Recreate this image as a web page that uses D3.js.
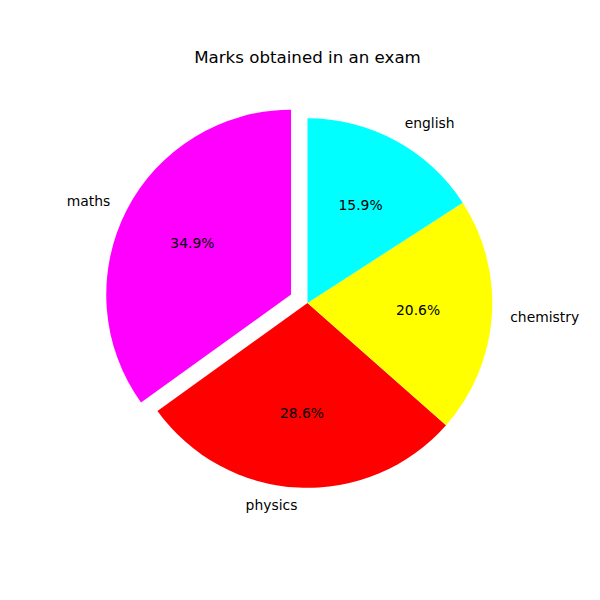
<!DOCTYPE html>
<html><head><meta charset="utf-8">
<script src="https://cdn.jsdelivr.net/npm/d3@7"></script>
<style>body{margin:0;background:#fff}</style>
</head><body>
<svg id="c" width="600" height="600"></svg>
<script>
const subjects = ["maths", "physics", "chemistry", "english"];
const marks = [22, 18, 13, 10];
const colors = ["magenta", "red", "yellow", "cyan"];
const explode = [0.1, 0, 0, 0];
const title = "Marks obtained in an exam";

const svg = d3.select("#c");
const cx = 307.5, cy = 303;
const r = d3.scaleLinear().domain([0, 1]).range([0, 184.8]);
const font = "DejaVu Sans, sans-serif";

svg.append("text").attr("x", cx).attr("y", 63.2).attr("text-anchor", "middle")
  .style("font-family", font).style("font-size", "16.67px").text(title);

const data = subjects.map((s, i) => ({s, v: marks[i], c: colors[i], e: explode[i]}));
const pie = d3.pie().value(d => d.v).sort(null).startAngle(0).endAngle(-2 * Math.PI);
const arc = d3.arc().innerRadius(0).outerRadius(r(1));
const total = d3.sum(marks);

const g = svg.append("g").attr("transform", `translate(${cx},${cy})`);
pie(data).forEach(p => {
  const a = (p.startAngle + p.endAngle) / 2;
  const ux = Math.sin(a), uy = -Math.cos(a);
  const ox = r(p.data.e) * ux, oy = r(p.data.e) * uy;
  const w = g.append("g").attr("transform", `translate(${ox},${oy})`);
  w.append("path").attr("d", arc(p)).attr("fill", p.data.c);
  w.append("text").attr("x", r(1.1) * ux).attr("y", r(1.1) * uy - 1)
    .attr("text-anchor", ux > 0 ? "start" : "end").attr("dominant-baseline", "central")
    .style("font-family", font).style("font-size", "13.89px").text(p.data.s);
  w.append("text").attr("x", r(0.6) * ux).attr("y", r(0.6) * uy - 1)
    .attr("text-anchor", "middle").attr("dominant-baseline", "central")
    .style("font-family", font).style("font-size", "13.89px")
    .text((p.data.v / total * 100).toFixed(1) + "%");
});
</script>
</body></html>
